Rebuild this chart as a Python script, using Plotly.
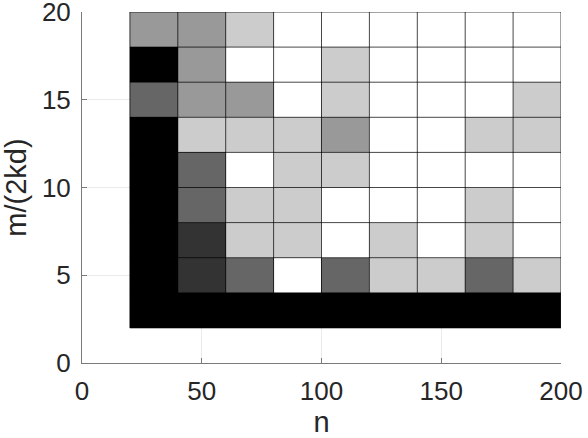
import plotly.graph_objects as go

# cell centres
n_centers = [30, 50, 70, 90, 110, 130, 150, 170, 190]
m_centers = [3, 5, 7, 9, 11, 13, 15, 17, 19]
cell_w = 20
cell_h = 2

# grayscale value per cell (rows bottom -> top)
z_rows = [
    [0, 0, 0, 0, 0, 0, 0, 0, 0],
    [0, 0.2, 0.4, 1, 0.4, 0.8, 0.8, 0.4, 0.8],
    [0, 0.2, 0.8, 0.8, 1, 0.8, 1, 0.8, 1],
    [0, 0.4, 0.8, 0.8, 1, 1, 1, 0.8, 1],
    [0, 0.4, 1, 0.8, 0.8, 1, 1, 1, 1],
    [0, 0.8, 0.8, 0.8, 0.6, 1, 1, 0.8, 0.8],
    [0.4, 0.6, 0.6, 1, 0.8, 1, 1, 1, 0.8],
    [0, 0.6, 1, 1, 0.8, 1, 1, 1, 1],
    [0.6, 0.6, 0.8, 1, 1, 1, 1, 1, 1],
]

x_ticks = [0, 50, 100, 150, 200]
y_ticks = [0, 5, 10, 15, 20]

fig = go.Figure()
fig.add_trace(go.Heatmap(
    x=n_centers, y=m_centers, z=z_rows,
    colorscale=[[0, "#000000"], [1, "#ffffff"]],
    zmin=0, zmax=1, showscale=False, hoverinfo="skip",
))

# cell edges derived from the cell centres
x_edges = [c - cell_w / 2 for c in n_centers] + [n_centers[-1] + cell_w / 2]
y_edges = [c - cell_h / 2 for c in m_centers] + [m_centers[-1] + cell_h / 2]
ex, ey = [], []
for xe in x_edges:
    ex += [xe, xe, None]
    ey += [y_edges[0], y_edges[-1], None]
for ye in y_edges:
    ex += [x_edges[0], x_edges[-1], None]
    ey += [ye, ye, None]
fig.add_trace(go.Scatter(
    x=ex, y=ey, mode="lines",
    line=dict(color="rgba(0,0,0,0.72)", width=1),
    hoverinfo="skip", showlegend=False, cliponaxis=False,
))

font = "Liberation Sans, Arial, Helvetica, sans-serif"
axis_common = dict(
    showline=True, linecolor="#7a7a7a", linewidth=1,
    ticks="inside", ticklen=5, tickcolor="#7a7a7a",
    showgrid=True, gridcolor="#ebebeb", gridwidth=1,
    zeroline=False, mirror=False, automargin=False,
    ticklabeloverflow="allow",
    tickfont=dict(family=font, size=26, color="#262626"),
)

fig.update_layout(
    width=588, height=438,
    margin=dict(l=82, r=27, t=12, b=75),
    paper_bgcolor="white", plot_bgcolor="white",
    showlegend=False,
    xaxis=dict(range=[0, 200], tickvals=x_ticks, ticklabelstandoff=5,
               title=dict(text="n", font=dict(family=font, size=29, color="#262626"), standoff=25),
               **axis_common),
    yaxis=dict(range=[0, 20], tickvals=y_ticks, ticklabelstandoff=5,
               title=dict(text="m/(2kd)", font=dict(family=font, size=29, color="#262626"), standoff=10),
               **axis_common),
)

fig.write_html("out.html", config={"displayModeBar": False},
               post_script="document.body.style.margin='0';document.body.style.overflow='hidden';")
